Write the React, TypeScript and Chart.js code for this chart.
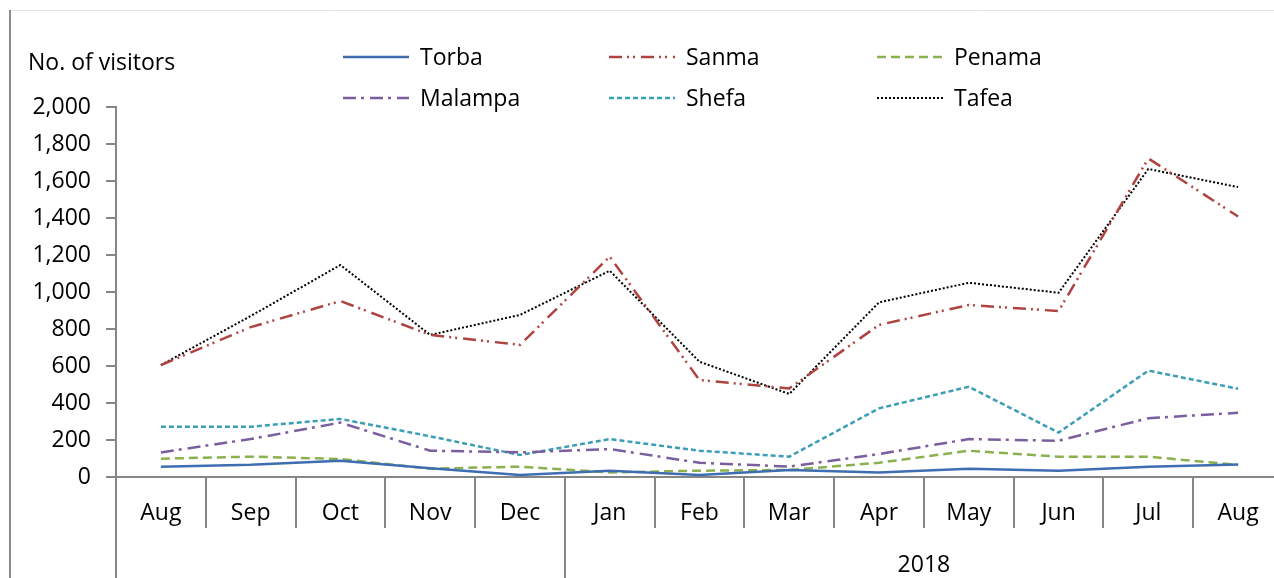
import React, { useEffect, useRef } from "react";
import { Chart, registerables } from "chart.js";

Chart.register(...registerables);

const months = ["Aug", "Sep", "Oct", "Nov", "Dec", "Jan", "Feb", "Mar", "Apr", "May", "Jun", "Jul", "Aug"];
const groupLabels = ["", "2018"];
const groupStarts = [0, 5];

const seriesNames = ["Torba", "Sanma", "Penama", "Malampa", "Shefa", "Tafea"];
const torba = [56, 66, 88, 47, 11, 34, 11, 38, 25, 45, 34, 55, 68];
const sanma = [605, 810, 951, 768, 714, 1191, 524, 479, 822, 930, 897, 1722, 1408];
const penama = [99, 110, 97, 45, 56, 25, 34, 38, 77, 142, 110, 110, 65];
const malampa = [133, 205, 294, 142, 133, 151, 77, 56, 124, 205, 196, 318, 347];
const shefa = [272, 272, 314, 220, 119, 205, 142, 110, 371, 488, 240, 575, 477];
const tafea = [605, 870, 1146, 768, 876, 1115, 623, 449, 944, 1050, 996, 1665, 1567];

const yTicksMax = 2000;
const yStep = 200;
const yTitle = "No. of visitors";

const colors = ["#3E6DB1", "#AE4340", "#8BB04F", "#7B5E9E", "#3C9DB6", "#000000"];
const dashes: number[][] = [[], [13, 5, 2, 4, 2, 6], [9, 5], [13, 5, 3, 6], [5, 3], [2, 2]];
const widths = [2.5, 2.5, 2.5, 2.5, 2.5, 2];

const FONT = "'Open Sans', 'Noto Sans', sans-serif";

const decor = {
  id: "decor",
  beforeDraw(chart: any) {
    const ctx = chart.ctx;
    ctx.save();
    ctx.fillStyle = "#ffffff";
    ctx.fillRect(0, 0, chart.width, chart.height);
    ctx.strokeStyle = "#e3e3e3";
    ctx.lineWidth = 1;
    ctx.beginPath();
    ctx.moveTo(10, 10.5);
    ctx.lineTo(chart.width, 10.5);
    ctx.stroke();
    ctx.strokeStyle = "#8c8c8c";
    ctx.lineWidth = 2;
    ctx.beginPath();
    ctx.moveTo(10, 10);
    ctx.lineTo(10, chart.height);
    ctx.stroke();
    ctx.restore();
  },
  afterDraw(chart: any) {
    const ctx = chart.ctx;
    const area = chart.chartArea;
    const xs = chart.scales.x;
    ctx.save();
    ctx.strokeStyle = "#868686";
    ctx.lineWidth = 2;
    for (let i = 0; i <= months.length; i++) {
      const bx = Math.round(xs.getPixelForValue(i - 0.5));
      const isLong = groupStarts.includes(i);
      ctx.beginPath();
      ctx.moveTo(bx, area.bottom);
      ctx.lineTo(bx, isLong ? chart.height : area.bottom + 51);
      ctx.stroke();
    }
    ctx.fillStyle = "#000";
    ctx.font = `23px ${FONT}`;
    ctx.textAlign = "center";
    ctx.textBaseline = "middle";
    for (let g = 0; g < groupLabels.length; g++) {
      if (!groupLabels[g]) continue;
      const s = groupStarts[g];
      const e = g + 1 < groupStarts.length ? groupStarts[g + 1] : months.length;
      const x1 = xs.getPixelForValue(s - 0.5);
      const x2 = xs.getPixelForValue(e - 0.5);
      ctx.fillText(groupLabels[g], (x1 + x2) / 2, 565);
    }
    ctx.textAlign = "left";
    ctx.fillText(yTitle, 28, 63);
    // legend
    const colX = [343, 609, 877];
    const rowY = [57, 98];
    chart.data.datasets.forEach((ds: any, i: number) => {
      const c = i % 3;
      const r = Math.floor(i / 3);
      const x0 = colX[c];
      const y0 = rowY[r];
      ctx.save();
      ctx.strokeStyle = ds.borderColor;
      ctx.lineWidth = ds.borderWidth;
      ctx.setLineDash(ds.borderDash || []);
      ctx.beginPath();
      ctx.moveTo(x0, y0);
      ctx.lineTo(x0 + 66, y0);
      ctx.stroke();
      ctx.restore();
      ctx.fillStyle = "#000";
      ctx.fillText(ds.label, x0 + 77, y0 + 1);
    });
    ctx.restore();
  },
};

export default function App() {
  const ref = useRef<HTMLCanvasElement | null>(null);
  useEffect(() => {
    if (!ref.current) return;
    const data = [torba, sanma, penama, malampa, shefa, tafea];
    const chart = new Chart(ref.current, {
      type: "line",
      data: {
        labels: months,
        datasets: data.map((d, i) => ({
          label: seriesNames[i],
          data: d,
          borderColor: colors[i],
          backgroundColor: colors[i],
          borderWidth: widths[i],
          borderDash: dashes[i],
          pointRadius: 0,
          tension: 0,
          fill: false,
        })),
      },
      options: {
        animation: false,
        responsive: false,
        events: [],
        layout: { padding: { top: 107, right: 17, left: 0, bottom: 0 } },
        plugins: { legend: { display: false }, title: { display: false }, tooltip: { enabled: false } },
        scales: {
          x: {
            type: "category",
            offset: true,
            grid: { display: false, drawTicks: false },
            border: { display: true, color: "#868686", width: 2 },
            ticks: { color: "#000", font: { family: FONT, size: 23 }, padding: 23, maxRotation: 0, autoSkip: false },
            afterFit: (s: any) => {
              s.height = 101;
            },
          },
          y: {
            min: 0,
            max: yTicksMax,
            grid: { display: true, drawOnChartArea: false, drawTicks: true, tickLength: 10, color: "#868686", lineWidth: 2 },
            border: { display: true, color: "#868686", width: 2 },
            ticks: {
              stepSize: yStep,
              color: "#000",
              font: { family: FONT, size: 23 },
              padding: 15,
              callback: (v: any) => Number(v).toLocaleString("en-US"),
            },
            afterFit: (s: any) => {
              s.width = 116;
            },
          },
        },
      },
      plugins: [decor],
    });
    return () => chart.destroy();
  }, []);
  return (
    <div style={{ position: "fixed", left: 0, top: 0, width: 1274, height: 578, overflow: "hidden", background: "#fff" }}>
      <canvas ref={ref} width={1300} height={578} style={{ display: "block", width: 1300, height: 578 }} />
    </div>
  );
}
